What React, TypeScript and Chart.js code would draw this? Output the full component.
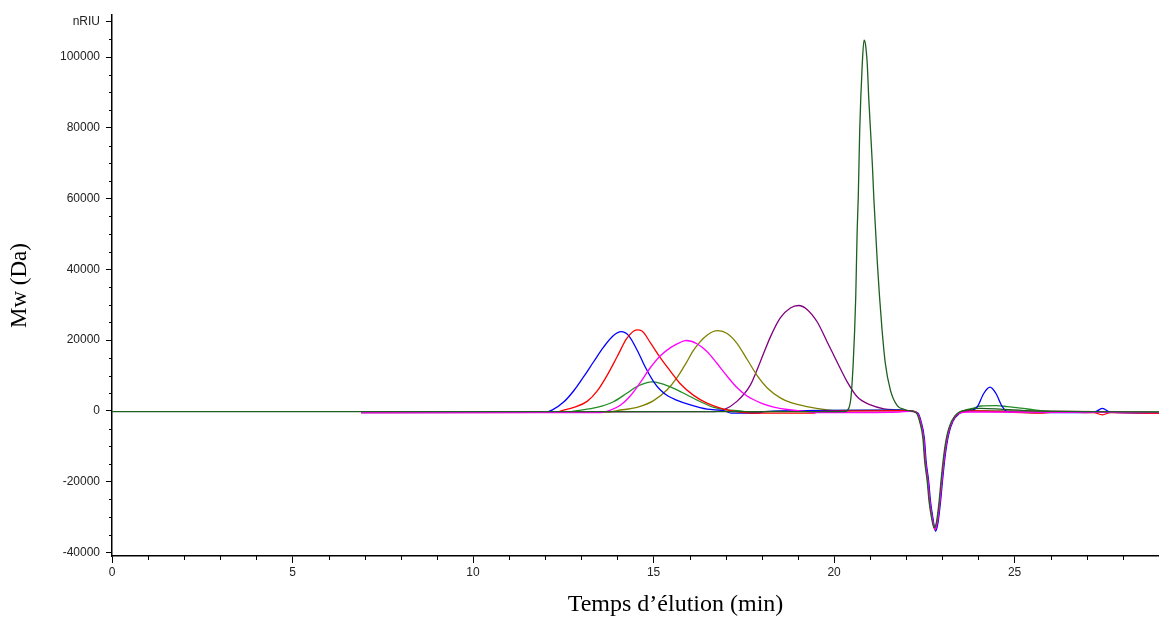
import React, { useEffect, useRef } from 'react';
import { Chart, registerables } from 'chart.js';

Chart.register(...registerables);

type P = [number, number];

// Time (min) / signal (nRIU) pairs
const darkGreenSeries: P[] = [
  [0, -200], [20.3, -200], [20.41, 800], [20.47, 4000], [20.53, 13400], [20.57, 22800], [20.6, 32200],
  [20.62, 41600], [20.64, 51000], [20.67, 60400], [20.69, 69800], [20.71, 79200], [20.74, 88500],
  [20.78, 97900], [20.83, 104800], [20.87, 103600], [20.92, 97900], [20.96, 88500], [21.01, 79200],
  [21.06, 69800], [21.1, 60400], [21.15, 51000], [21.2, 41600], [21.26, 32200], [21.33, 22800],
  [21.42, 13400], [21.56, 5900], [21.75, 1500], [21.95, 400], [22.1, 0], [22.28, -600], [22.37, -3000],
  [22.46, -7700], [22.51, -14300], [22.58, -19900], [22.63, -25500], [22.7, -30200], [22.77, -33000],
  [22.84, -31200], [22.91, -25500], [22.97, -19000], [23.04, -12400], [23.13, -6800], [23.25, -3000],
  [23.43, -600], [23.7, 300], [24.06, 700], [24.6, 500], [25.5, 0], [29, -300],
];

const blueSeries: P[] = [
  [6.9, -500], [12.0, -400], [12.2, 300], [12.51, 2500], [12.79, 5700], [13.06, 9600], [13.34, 13900],
  [13.62, 18100], [13.89, 21300], [14.1, 22400], [14.31, 21300], [14.54, 17300], [14.77, 12400],
  [15.0, 8300], [15.19, 5900], [15.4, 4200], [15.6, 3200], [16.02, 1700], [16.48, 500], [16.94, 100],
  [17.15, -600], [17.9, -600], [18.05, -200], [21.8, 200], [22.14, 0], [22.32, -600], [22.41, -3000],
  [22.5, -7700], [22.55, -14300], [22.62, -19900], [22.67, -25500], [22.74, -30500], [22.81, -34000],
  [22.88, -31500], [22.95, -25500], [23.01, -19000], [23.08, -12400], [23.17, -6800], [23.29, -3000],
  [23.47, -700], [23.75, 100], [23.9, 500], [23.97, 1200], [24.15, 5000], [24.32, 6700], [24.48, 5000],
  [24.66, 1200], [24.8, -200], [25.8, -500], [27.2, -400], [27.43, 700], [27.65, -300], [29, -600],
];

const redSeries: P[] = [
  [6.9, -500], [12.3, -400], [12.46, 100], [12.79, 1000], [13.16, 2700], [13.43, 5500], [13.71, 10000],
  [13.99, 15300], [14.26, 20500], [14.54, 22900], [14.68, 22600], [14.91, 19300], [15.19, 15000],
  [15.47, 11200], [15.74, 7700], [16.11, 4400], [16.48, 2200], [16.85, 800], [17.13, 100], [17.4, -400],
  [17.87, -600], [19.44, -600], [19.6, -100], [21.8, 100], [22.12, 0], [22.3, -600], [22.39, -3000],
  [22.48, -7800], [22.53, -14300], [22.6, -20000], [22.65, -25500], [22.72, -30500], [22.79, -33500],
  [22.86, -31400], [22.93, -25500], [22.99, -19000], [23.06, -12400], [23.15, -6800], [23.27, -3000],
  [23.45, -700], [23.75, 0], [24.5, -200], [25.7, -600], [26.1, -300], [27.2, -500], [27.43, -1100],
  [27.65, -500], [29, -700],
];

const greenSeries: P[] = [
  [6.9, -400], [12.6, -300], [12.88, 100], [13.43, 1000], [13.89, 2600], [14.26, 5000], [14.54, 6900],
  [14.82, 8000], [14.95, 8200], [15.19, 7800], [15.56, 6400], [15.93, 4500], [16.3, 2600], [16.67, 1000],
  [17.04, 300], [17.4, 0], [17.7, -500], [18.1, -200], [21.8, 200], [22.12, 0], [22.3, -600],
  [22.39, -3000], [22.48, -7700], [22.53, -14300], [22.6, -19900], [22.65, -25500], [22.72, -30200],
  [22.79, -33300], [22.86, -31200], [22.93, -25500], [22.99, -19000], [23.06, -12400], [23.15, -6800],
  [23.27, -3000], [23.45, -600], [23.65, 300], [23.87, 800], [24.06, 1400], [24.5, 1500], [24.8, 1200],
  [25.17, 800], [25.54, 300], [26.0, -200], [29, -400],
];

const magentaSeries: P[] = [
  [6.9, -500], [13.55, -500], [13.8, 200], [14.08, 1600], [14.36, 4300], [14.63, 8000], [14.91, 12200],
  [15.19, 15600], [15.47, 17900], [15.74, 19400], [15.9, 19900], [16.2, 19000], [16.48, 16800],
  [16.76, 13400], [17.04, 9800], [17.31, 6600], [17.59, 4200], [17.96, 2300], [18.33, 1100], [18.7, 400],
  [19.25, -200], [19.45, -500], [21.8, -300], [22.12, -100], [22.3, -600], [22.39, -3000], [22.48, -7700],
  [22.53, -14300], [22.6, -19900], [22.65, -25500], [22.72, -30300], [22.79, -33400], [22.86, -31300],
  [22.93, -25500], [22.99, -19000], [23.06, -12400], [23.15, -6800], [23.27, -3000], [23.45, -700],
  [23.75, -300], [29, -500],
];

const oliveSeries: P[] = [
  [6.9, -400], [13.8, -300], [13.99, 100], [14.54, 1000], [15.0, 2900], [15.37, 5900], [15.65, 9400],
  [15.9, 13500], [16.11, 17200], [16.48, 21400], [16.78, 22700], [17.04, 21900], [17.31, 19100],
  [17.59, 14600], [17.87, 10000], [18.15, 6500], [18.51, 3700], [18.79, 2400], [19.25, 1200],
  [19.81, 300], [20.18, 0], [21.8, 0], [22.12, 0], [22.3, -600], [22.39, -3000], [22.48, -7700],
  [22.53, -14300], [22.6, -19900], [22.65, -25500], [22.72, -30200], [22.79, -33200], [22.86, -31200],
  [22.93, -25500], [22.99, -19000], [23.06, -12400], [23.15, -6800], [23.27, -3000], [23.45, -600],
  [23.75, 0], [29, -400],
];

const purpleSeries: P[] = [
  [6.9, -400], [16.7, -200], [16.94, 300], [17.31, 2700], [17.68, 7300], [17.96, 14000], [18.24, 21000],
  [18.51, 26300], [18.79, 29100], [19.02, 29800], [19.25, 28700], [19.53, 25200], [19.81, 19500],
  [20.08, 13900], [20.36, 8300], [20.64, 4000], [21.01, 1700], [21.38, 600], [21.8, 300], [22.12, 0],
  [22.3, -600], [22.39, -3000], [22.48, -7700], [22.53, -14300], [22.6, -19900], [22.65, -25500],
  [22.72, -30200], [22.79, -33200], [22.86, -31200], [22.93, -25500], [22.99, -19000], [23.06, -12400],
  [23.15, -6800], [23.27, -3000], [23.45, -600], [23.75, 0], [29, -400],
];

const xTickValues = [0, 5, 10, 15, 20, 25];
const yTickValues = [-40000, -20000, 0, 20000, 40000, 60000, 80000, 100000, 110000];
const yUnitTick = 110000;
const yUnitLabel = 'nRIU';
const xTitle = 'Temps d\u2019élution (min)';
const yTitle = 'Mw (Da)';

const seriesList: { label: string; color: string; data: P[] }[] = [
  { label: 'dark green', color: '#1e5e1e', data: darkGreenSeries },
  { label: 'magenta', color: '#ff00ff', data: magentaSeries },
  { label: 'red', color: '#ff0000', data: redSeries },
  { label: 'blue', color: '#0000ff', data: blueSeries },
  { label: 'green', color: '#228b22', data: greenSeries },
  { label: 'olive', color: '#808000', data: oliveSeries },
  { label: 'purple', color: '#800080', data: purpleSeries },
];

const SANS = '"Liberation Sans", Arial, sans-serif';
const SERIF = '"Liberation Serif", "Times New Roman", serif';

const extrasPlugin = {
  id: 'extras',
  afterDraw(chart: any) {
    const { ctx, chartArea } = chart;
    const x = chart.scales.x;
    const y = chart.scales.y;
    ctx.save();
    ctx.strokeStyle = '#000';
    ctx.lineWidth = 1;
    ctx.beginPath();
    for (let v = Math.ceil(x.min); v <= x.max; v += 1) {
      if (xTickValues.includes(v)) continue;
      const px = Math.round(x.getPixelForValue(v)) + 0.5;
      ctx.moveTo(px, chartArea.bottom);
      ctx.lineTo(px, chartArea.bottom + 4);
    }
    for (let v = -40000; v <= y.max; v += 5000) {
      if (yTickValues.includes(v)) continue;
      const py = Math.round(y.getPixelForValue(v)) + 0.5;
      ctx.moveTo(chartArea.left - 3, py);
      ctx.lineTo(chartArea.left, py);
    }
    ctx.stroke();
    ctx.font = `24px ${SERIF}`;
    ctx.fillStyle = '#000';
    ctx.textAlign = 'center';
    ctx.textBaseline = 'middle';
    ctx.fillText(xTitle, (chartArea.left + chartArea.right) / 2 + 40, 605);
    ctx.restore();
  },
};

export default function App() {
  const canvasRef = useRef<HTMLCanvasElement | null>(null);

  useEffect(() => {
    if (!canvasRef.current) return;
    const chart = new Chart(canvasRef.current, {
      type: 'line',
      data: {
        datasets: seriesList.map((s) => ({
          label: s.label,
          data: s.data.map(([t, v]) => ({ x: t, y: v })),
          borderColor: s.color,
          backgroundColor: s.color,
          borderWidth: 1.3,
          pointRadius: 0,
          fill: false,
          cubicInterpolationMode: 'monotone' as const,
        })),
      },
      options: {
        animation: false,
        responsive: false,
        layout: { padding: { top: 15, right: 0, left: 0, bottom: 0 } },
        plugins: { legend: { display: false }, tooltip: { enabled: false } },
        scales: {
          x: {
            type: 'linear',
            min: 0,
            max: 29,
            afterFit: (s: any) => { s.height = 61; },
            afterBuildTicks: (s: any) => { s.ticks = xTickValues.map((v) => ({ value: v })); },
            ticks: {
              autoSkip: false,
              maxRotation: 0,
              padding: 2,
              color: '#222',
              font: { family: SANS, size: 12 },
              callback: (v: any) => String(v),
            },
            grid: { drawOnChartArea: false, tickLength: 7, tickColor: '#000', tickWidth: 1 },
            border: { color: '#000', width: 1.5 },
          },
          y: {
            type: 'linear',
            min: -41000,
            max: 111900,
            afterFit: (s: any) => { s.width = 112; },
            afterBuildTicks: (s: any) => { s.ticks = yTickValues.map((v) => ({ value: v })); },
            ticks: {
              autoSkip: false,
              padding: 6,
              color: '#222',
              font: { family: SANS, size: 12 },
              callback: (v: any) => (v === yUnitTick ? yUnitLabel : String(v)),
            },
            grid: { drawOnChartArea: false, tickLength: 6, tickColor: '#000', tickWidth: 1 },
            border: { color: '#000', width: 1.5 },
            title: {
              display: true,
              text: yTitle,
              color: '#000',
              font: { family: SERIF, size: 23, weight: 'normal' },
              padding: { top: 6, bottom: 0 },
            },
          },
        },
      },
      plugins: [extrasPlugin],
    } as any);
    return () => chart.destroy();
  }, []);

  return (
    <div style={{ position: 'absolute', left: 0, top: 0, width: 1159, height: 617, background: '#fff' }}>
      <canvas ref={canvasRef} width={1159} height={617} style={{ display: 'block' }} />
    </div>
  );
}
